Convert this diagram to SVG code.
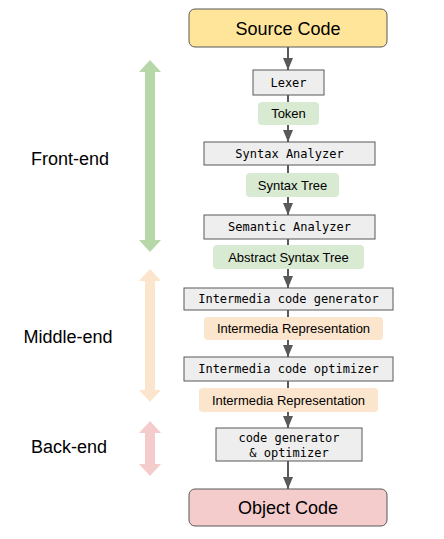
<svg xmlns="http://www.w3.org/2000/svg" width="444" height="539" viewBox="0 0 444 539">
<style>
.term{stroke:#595959;stroke-width:1;}
.stage{fill:#eeeeee;stroke:#595959;stroke-width:1;}
.green{fill:#d9ead3;}
.orange{fill:#fce5cd;}
.mono{font-family:"DejaVu Sans Mono","Liberation Mono",monospace;font-size:12px;fill:#000;text-anchor:middle;}
.sans{font-family:"Liberation Sans",Arial,sans-serif;fill:#000;text-anchor:middle;}
.edge{stroke:#595959;stroke-width:2;fill:none;}
</style>
<defs>
<marker id="ah" viewBox="0 0 12 10" refX="12" refY="5" markerWidth="12" markerHeight="10" markerUnits="userSpaceOnUse" orient="auto">
<path d="M0,0 L12,5 L0,10 Z" fill="#595959"/>
</marker>
</defs>
<g id="connectors">
<line class="edge" x1="288" y1="47" x2="288" y2="70" marker-end="url(#ah)"/>
<line class="edge" x1="288" y1="95" x2="288" y2="102"/>
<line class="edge" x1="288" y1="125" x2="288" y2="142" marker-end="url(#ah)"/>
<line class="edge" x1="288" y1="165" x2="288" y2="173"/>
<line class="edge" x1="288" y1="197" x2="288" y2="215" marker-end="url(#ah)"/>
<line class="edge" x1="288" y1="239" x2="288" y2="245"/>
<line class="edge" x1="288" y1="269" x2="288" y2="288" marker-end="url(#ah)"/>
<line class="edge" x1="288" y1="310" x2="288" y2="317"/>
<line class="edge" x1="288" y1="340" x2="288" y2="357" marker-end="url(#ah)"/>
<line class="edge" x1="288" y1="381" x2="288" y2="388"/>
<line class="edge" x1="288" y1="412" x2="288" y2="428" marker-end="url(#ah)"/>
<line class="edge" x1="288" y1="461" x2="288" y2="489" marker-end="url(#ah)"/>
</g>
<g id="source">
<rect class="term" x="189" y="9" width="198" height="38" rx="6" fill="#ffe599"/>
<text class="sans" x="288" y="34.5" font-size="18">Source Code</text>
</g>
<g id="lexer">
<rect class="stage" x="253" y="70" width="71" height="25"/>
<text class="mono" x="288.5" y="86.5">Lexer</text>
</g>
<g id="token">
<rect class="green" x="258" y="102" width="61" height="23" rx="4"/>
<text class="sans" x="288.5" y="118" font-size="13">Token</text>
</g>
<g id="syntax-analyzer">
<rect class="stage" x="204" y="142" width="171" height="23"/>
<text class="mono" x="289.5" y="157.5">Syntax Analyzer</text>
</g>
<g id="syntax-tree">
<rect class="green" x="246" y="173" width="93" height="24" rx="4"/>
<text class="sans" x="292.5" y="189.5" font-size="13">Syntax Tree</text>
</g>
<g id="semantic-analyzer">
<rect class="stage" x="204" y="215" width="171" height="24"/>
<text class="mono" x="289.5" y="231">Semantic Analyzer</text>
</g>
<g id="ast">
<rect class="green" x="213" y="245" width="151" height="24" rx="4"/>
<text class="sans" x="288.5" y="261.5" font-size="13">Abstract Syntax Tree</text>
</g>
<g id="ir-generator">
<rect class="stage" x="184" y="288" width="209" height="22"/>
<text class="mono" x="288.5" y="303">Intermedia code generator</text>
</g>
<g id="ir1">
<rect class="orange" x="204" y="317" width="179" height="23" rx="4"/>
<text class="sans" x="293.5" y="333" font-size="13">Intermedia Representation</text>
</g>
<g id="ir-optimizer">
<rect class="stage" x="184" y="357" width="209" height="24"/>
<text class="mono" x="288.5" y="373">Intermedia code optimizer</text>
</g>
<g id="ir2">
<rect class="orange" x="199" y="388" width="179" height="24" rx="4"/>
<text class="sans" x="288.5" y="404.5" font-size="13">Intermedia Representation</text>
</g>
<g id="codegen">
<rect class="stage" x="216" y="428" width="146" height="33"/>
<text class="mono" x="289" y="441.5">code generator</text>
<text class="mono" x="289" y="456.5">&amp; optimizer</text>
</g>
<g id="object">
<rect class="term" x="189" y="489" width="198" height="37" rx="6" fill="#f4cccc"/>
<text class="sans" x="288" y="514" font-size="18">Object Code</text>
</g>
<g id="front-end">
<path d="M150,60 L161,72 L155,72 L155,240 L161,240 L150,252 L139,240 L145,240 L145,72 L139,72 Z" fill="#b6d7a8"/>
<text class="sans" x="70" y="165" font-size="18">Front-end</text>
</g>
<g id="middle-end">
<path d="M150,269 L161,281 L155,281 L155,390 L161,390 L150,402 L139,390 L145,390 L145,281 L139,281 Z" fill="#fce5cd"/>
<text class="sans" x="68" y="343" font-size="18">Middle-end</text>
</g>
<g id="back-end">
<path d="M150,421 L161,433 L155,433 L155,464 L161,464 L150,476 L139,464 L145,464 L145,433 L139,433 Z" fill="#f4cccc"/>
<text class="sans" x="69" y="453" font-size="18">Back-end</text>
</g>
</svg>
